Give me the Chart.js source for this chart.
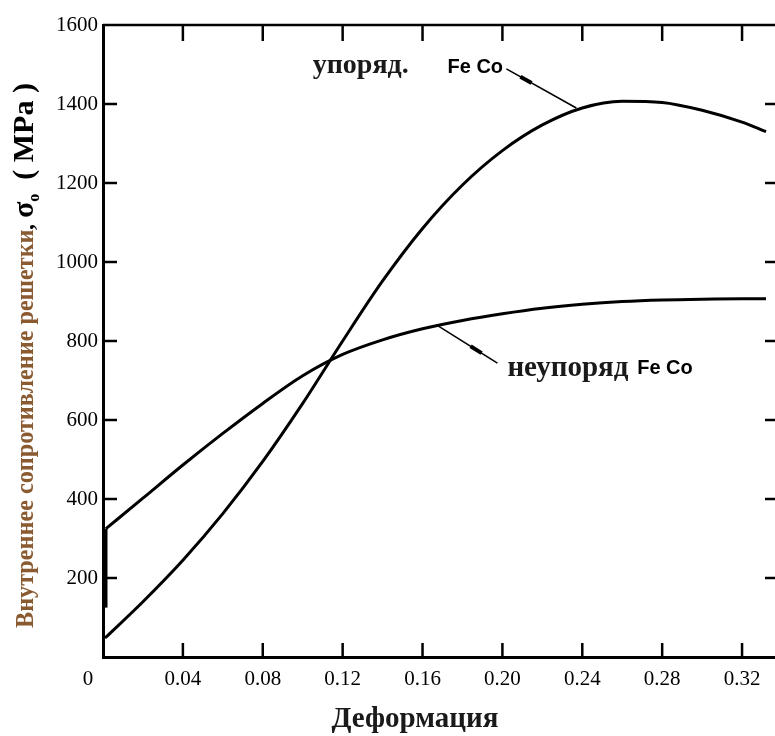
<!DOCTYPE html>
<html>
<head>
<meta charset="utf-8">
<script src="https://cdn.jsdelivr.net/npm/chart.js@4.4.1/dist/chart.umd.min.js"></script>
<style>
  html, body { margin: 0; padding: 0; background: #fff; overflow: hidden; }
  canvas { display: block; }
</style>
</head>
<body>
<canvas id="chart" width="775" height="736" style="width:775px;height:736px"></canvas>
<script>
// tick labels
const xTicks = [0, 0.04, 0.08, 0.12, 0.16, 0.20, 0.24, 0.28, 0.32];
const yTicks = [0, 200, 400, 600, 800, 1000, 1200, 1400, 1600];

// упоряд. FeCo
const orderedStrain = [0.001, 0.02, 0.04, 0.06, 0.08, 0.10, 0.12, 0.14, 0.16, 0.18, 0.20, 0.22, 0.24, 0.26, 0.28, 0.30, 0.32, 0.332];
const orderedStress = [48, 140, 245, 363, 495, 642, 800, 952, 1085, 1195, 1282, 1347, 1390, 1407, 1404, 1384, 1354, 1330];

// неупоряд FeCo: скачок у оси и дальше плавная кривая
const disorderedJumpStrain = [0.0015, 0.0015];
const disorderedJumpStress = [125, 325];
const disorderedStrain = [0.0015, 0.02, 0.04, 0.06, 0.08, 0.10, 0.12, 0.14, 0.16, 0.18, 0.20, 0.22, 0.24, 0.26, 0.28, 0.30, 0.32, 0.332];
const disorderedStress = [325, 402, 486, 566, 642, 712, 766, 803, 831, 852, 869, 883, 893, 900, 904, 906, 907, 907];

const serif = '"Liberation Serif", "Times New Roman", serif';
const sans = '"Liberation Sans", Arial, sans-serif';

function toPoints(xs, ys) {
    return xs.map((x, i) => ({ x: x, y: ys[i] }));
}

function curve(label, points, smooth) {
    return {
        label: label,
        data: points,
        showLine: true,
        borderColor: '#000',
        borderWidth: 3,
        pointRadius: 0,
        cubicInterpolationMode: smooth ? 'monotone' : 'default',
        tension: 0,
        fill: false
    };
}

// рамка, внутренние засечки, подписи и стрелки
const decorPlugin = {
    id: 'decor',
    afterDraw(chart) {
        const { ctx, chartArea: a, scales: { x, y } } = chart;
        const line = (x1, y1, x2, y2) => {
            ctx.beginPath(); ctx.moveTo(x1, y1); ctx.lineTo(x2, y2); ctx.stroke();
        };
        ctx.save();
        ctx.strokeStyle = '#000';
        ctx.lineWidth = 2.5;
        line(a.left, a.top, a.right, a.top);

        xTicks.slice(1).forEach(v => {
            const px = x.getPixelForValue(v);
            line(px, a.bottom, px, a.bottom - 14);
            line(px, a.top, px, a.top + 16);
        });
        yTicks.slice(1, -1).forEach(v => {
            const py = y.getPixelForValue(v);
            line(a.left, py, a.left + 14, py);
            line(a.right, py, a.right - 10, py);
        });

        // общий ноль в углу
        ctx.fillStyle = '#000';
        ctx.font = '21px ' + serif;
        ctx.textAlign = 'center';
        ctx.textBaseline = 'middle';
        ctx.fillText('0', x.getPixelForValue(0) - 15, a.bottom + 22);

        // стрелки-выноски
        const pointer = (x1, y1, x2, y2, t1, t2) => {
            const p1 = [x.getPixelForValue(x1), y.getPixelForValue(y1)];
            const p2 = [x.getPixelForValue(x2), y.getPixelForValue(y2)];
            ctx.lineWidth = 1.6;
            line(p1[0], p1[1], p2[0], p2[1]);
            ctx.lineWidth = 4;
            line(p1[0] + (p2[0] - p1[0]) * t1, p1[1] + (p2[1] - p1[1]) * t1,
                 p1[0] + (p2[0] - p1[0]) * t2, p1[1] + (p2[1] - p1[1]) * t2);
        };
        pointer(0.202, 1489, 0.237, 1390, 0.2, 0.36);
        pointer(0.167, 841, 0.1975, 744, 0.56, 0.74);

        ctx.textAlign = 'left';
        ctx.textBaseline = 'alphabetic';
        ctx.fillStyle = '#1a1a1a';
        ctx.font = 'bold 28px ' + serif;
        ctx.fillText('упоряд.', x.getPixelForValue(0.105), y.getPixelForValue(1478));
        ctx.font = 'bold 29px ' + serif;
        ctx.fillText('неупоряд', x.getPixelForValue(0.2025), y.getPixelForValue(711));
        ctx.fillStyle = '#000';
        ctx.font = 'bold 20px ' + sans;
        ctx.fillText('Fe Co', x.getPixelForValue(0.1725), y.getPixelForValue(1478));
        ctx.fillText('Fe Co', x.getPixelForValue(0.2675), y.getPixelForValue(716));

        // подпись оси X
        ctx.font = 'bold 29px ' + serif;
        ctx.textAlign = 'center';
        ctx.fillStyle = '#1a1a1a';
        ctx.fillText('Деформация', 415, 727);

        // подпись оси Y
        ctx.translate(33, 628);
        ctx.rotate(-Math.PI / 2);
        ctx.textAlign = 'left';
        const main = 'Внутреннее сопротивление решетки';
        ctx.font = 'bold 22px ' + serif;
        const size = 22 * 398 / ctx.measureText(main).width;
        ctx.font = 'bold ' + size.toFixed(1) + 'px ' + serif;
        ctx.fillStyle = '#8a5a30';
        ctx.fillText(main, 0, 0);
        let pos = 398;
        ctx.fillStyle = '#000';
        ctx.font = 'bold 24px ' + serif;
        ctx.fillText(',', pos, 0);
        pos += ctx.measureText(', ').width;
        ctx.font = 'bold 30px ' + serif;
        ctx.fillText('σ', pos, 0);
        pos += ctx.measureText('σ').width;
        ctx.font = 'bold 16px ' + serif;
        ctx.fillText('o', pos, 6);
        pos += ctx.measureText('o').width + 14;
        ctx.font = 'bold 30px ' + serif;
        ctx.fillText('( MPa )', pos, 0);
        ctx.restore();
    }
};

const ctx = document.getElementById('chart').getContext('2d');
new Chart(ctx, {
    type: 'scatter',
    data: {
        datasets: [
            curve('упоряд. Fe Co', toPoints(orderedStrain, orderedStress), true),
            curve('неупоряд Fe Co', toPoints(disorderedJumpStrain, disorderedJumpStress), false),
            curve('неупоряд Fe Co', toPoints(disorderedStrain, disorderedStress), true)
        ]
    },
    options: {
        responsive: false,
        animation: false,
        layout: { padding: { top: 25, left: 0, right: 0, bottom: 0 } },
        plugins: {
            legend: { display: false },
            tooltip: { enabled: false }
        },
        scales: {
            x: {
                type: 'linear',
                min: 0,
                max: 0.3365,
                afterBuildTicks: s => { s.ticks = xTicks.map(v => ({ value: v })); },
                afterFit: s => { s.height = 79; },
                grid: { display: false, drawTicks: false },
                border: { display: true, color: '#000', width: 3 },
                ticks: {
                    padding: 10,
                    color: '#000',
                    maxRotation: 0,
                    font: { family: serif, size: 21 },
                    callback: v => v === 0 ? '' : v.toFixed(2)
                }
            },
            y: {
                type: 'linear',
                min: 0,
                max: 1600,
                afterBuildTicks: s => { s.ticks = yTicks.map(v => ({ value: v })); },
                afterFit: s => { s.width = 103; },
                grid: { display: false, drawTicks: false },
                border: { display: true, color: '#000', width: 3 },
                ticks: {
                    padding: 5,
                    color: '#000',
                    font: { family: serif, size: 21 },
                    callback: v => v === 0 ? '' : String(v)
                }
            }
        }
    },
    plugins: [decorPlugin]
});
</script>
</body>
</html>
